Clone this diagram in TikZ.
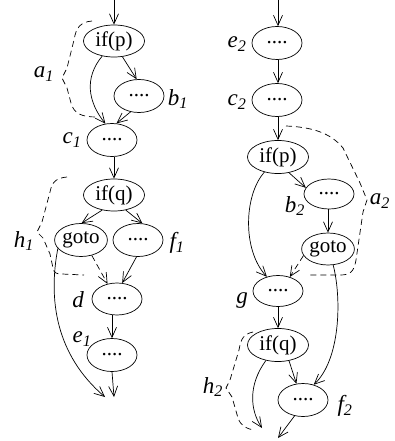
\documentclass[tikz,border=0pt]{standalone}
\usepackage{fontspec}
\setmainfont{Liberation Serif}
\usetikzlibrary{shapes.geometric,arrows.meta}
\tikzset{
  blk/.style={draw, ellipse, minimum width=50pt, minimum height=33pt, inner sep=0pt, line width=0.7pt, font=\fontsize{21}{21}\selectfont},
  wide/.style={blk, minimum width=61pt, minimum height=32pt},
  lab/.style={font=\fontsize{23}{23}\selectfont\itshape, inner sep=0pt},
  arr/.style={-{Straight Barb[length=10pt,width=9pt]}, line width=0.7pt},
  dsh/.style={dash pattern=on 6pt off 4pt, line width=0.7pt},
}
\begin{document}
\begin{tikzpicture}[x=1pt,y=-1pt]
\useasboundingbox (0,0) rectangle (394,441);
% ---------- left graph ----------
\node[wide] (ip1) at (114,41) {if(p)};
\node[blk] (b1) at (139,96) {....};
\node[blk] (c1) at (112,140) {....};
\node[wide] (iq1) at (114,195) {if(q)};
\node[blk] (goto1) at (81,240) {goto};
\node[blk] (f1) at (138,240) {....};
\node[blk, minimum height=32pt] (d) at (117,299) {....};
\node[blk] (e1) at (112,355) {....};
\coordinate (in1) at (114,0);
\coordinate (out1) at (114,397);
\coordinate (out1b) at (105,397);

\node[lab] (la1) at (44,74) {a\textsubscript{1}};
\node[lab] (lb1) at (178,99) {b\textsubscript{1}};
\node[lab] (lc1) at (72,140) {c\textsubscript{1}};
\node[lab] (lh1) at (24,241) {h\textsubscript{1}};
\node[lab] (lf1) at (177,243) {f\textsubscript{1}};
\node[lab] (ld) at (78,300) {d};
\node[lab] (le1) at (82,339) {e\textsubscript{1}};

\draw[arr] (in1) -- (ip1.north);
\draw[arr] (ip1.-62) -- (b1.98);
\draw[arr] (ip1.232) .. controls (84,78) and (88,102) .. (c1.112);
\draw[arr] (b1.-118) -- (c1.75);
\draw[arr] (c1.south -| iq1) -- (iq1.north);
\draw[arr] (iq1.-128) -- (goto1.88);
\draw[arr] (iq1.-52) -- (f1.75);
\draw[arr] (f1.-95) -- (d.72);
\draw[arr, dsh] (goto1.-55) -- (d.122);
\draw[arr] (d.south -| e1) -- (e1.north);
\draw[arr] (e1.south) -- (out1);
\draw[arr] (goto1.200) .. controls (48,300) and (56,355) .. (out1b);

\draw[dsh] (92,21) .. controls (80,22) and (76,28) .. (74,40)
  -- (67,68) -- (62,78) -- (67,88) -- (71,103)
  .. controls (74,114) and (82,117) .. (97,117);
\draw[dsh] (67,177) .. controls (56,178) and (52,182) .. (50,192)
  -- (42,222) -- (37,232) -- (43,238) -- (50,254) -- (53,268)
  .. controls (54,273) and (56,274) .. (62,274) -- (84,275);

% ---------- right graph ----------
\node[blk] (e2) at (277,43) {....};
\node[blk] (c2) at (277,100) {....};
\node[wide, minimum height=33pt] (ip2) at (278,157) {if(p)};
\node[blk, minimum height=30pt] (b2) at (329,194) {....};
\node[blk, minimum height=32pt] (goto2) at (328,249) {goto};
\node[blk, minimum height=31pt] (g) at (278,291) {....};
\node[wide, minimum height=33pt] (iq2) at (278,345) {if(q)};
\node[blk] (f2) at (303,400) {....};
\coordinate (in2) at (278,0);
\coordinate (out2a) at (262,428);
\coordinate (out2b) at (278,438);

\node[lab] (le2) at (237,44) {e\textsubscript{2}};
\node[lab] (lc2) at (237,102) {c\textsubscript{2}};
\node[lab] (lb2) at (295,206) {b\textsubscript{2}};
\node[lab] (la2) at (380,201) {a\textsubscript{2}};
\node[lab] (lg) at (242,301) {g};
\node[lab] (lh2) at (213,387) {h\textsubscript{2}};
\node[lab] (lf2) at (345,406) {f\textsubscript{2}};

\draw[arr] (in2) -- (e2.north -| in2);
\draw[arr] (e2.south -| in2) -- (c2.north -| in2);
\draw[arr] (c2.south -| in2) -- (ip2.north);
\draw[arr] (ip2.-55) -- (b2.165);
\draw[arr] (ip2.228) .. controls (244,195) and (242,250) .. (g.128);
\draw[arr] (b2.south -| goto2) -- (goto2.north);
\draw[arr, dsh] (goto2.195) -- (g.50);
\draw[arr] (goto2.-72) .. controls (342,300) and (340,360) .. (f2.55);
\draw[arr] (g.south) -- (iq2.north);
\draw[arr] (iq2.-55) -- (f2.112);
\draw[arr] (iq2.232) .. controls (248,385) and (250,410) .. (out2a);
\draw[arr] (f2.-118) -- (out2b);

\draw[dsh] (286,126) .. controls (310,127) and (330,132) .. (343,148)
  -- (360,183) -- (367,200) -- (363,212) -- (356,260)
  .. controls (354,272) and (350,275) .. (340,275) -- (307,275);
\draw[dsh] (253,332) .. controls (244,334) and (241,338) .. (239,350)
  -- (230,380) -- (226,388) -- (232,397) -- (238,418)
  .. controls (241,426) and (246,429) .. (255,430);
\end{tikzpicture}
\end{document}
